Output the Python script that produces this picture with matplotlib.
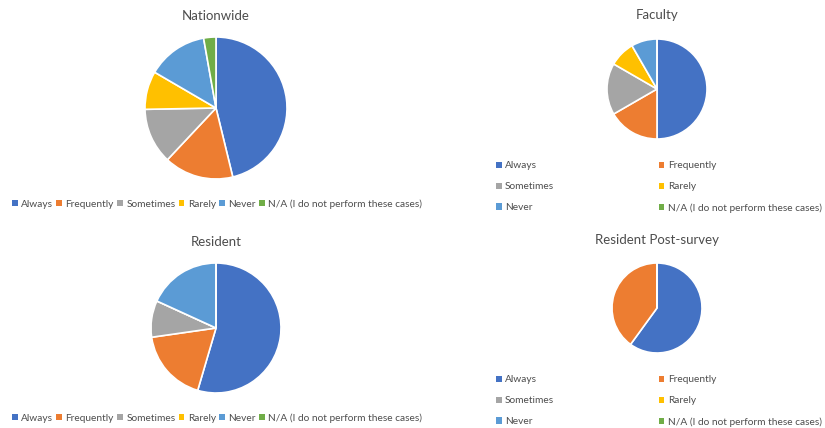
import matplotlib
matplotlib.use("Agg")
import matplotlib.pyplot as plt
from matplotlib.patches import Patch

plt.rcParams['font.family'] = ['Lato', 'DejaVu Sans']

W, H = 825, 428
TXT = '#4d4d4d'

categorias = ["Always", "Frequently", "Sometimes", "Rarely", "Never",
              "N/A (I do not perform these cases)"]
colores = ['#4472C4', '#ED7D31', '#A5A5A5', '#FFC000', '#5B9BD5', '#70AD47']

# porcentajes / respuestas por grupo
nationwide = [46.2, 15.8, 12.7, 8.7, 13.8, 2.8]
faculty = [6, 2, 2, 1, 1, 0]
resident = [6, 2, 1, 0, 2, 0]
post_survey = [3, 2, 0, 0, 0, 0]

fig = plt.figure(figsize=(W / 100, H / 100), dpi=100)
fig.patch.set_facecolor('white')


def Eje(cx, cy, r):
    # ejes cuadrados en pixeles, origen arriba a la izquierda
    return fig.add_axes([(cx - r) / W, 1 - (cy + r) / H, 2 * r / W, 2 * r / H])


def Tarta(valores, titulo, cx, cy, r, ty):
    ax = Eje(cx, cy, r)
    ax.pie(valores, colors=colores, startangle=90, counterclock=False,
           radius=1, wedgeprops=dict(edgecolor='white', linewidth=1.2))
    ax.set_xlim(-1, 1)
    ax.set_ylim(-1, 1)
    ax.set_aspect('equal')
    ax.axis('off')
    fig.text(cx / W, 1 - ty / H, titulo, ha='center', va='center',
             fontsize=9.5, color=TXT)


def Leyenda(x, y, ncol, columnspacing, labelspacing=0.5):
    handles = [Patch(facecolor=c, edgecolor='none') for c in colores]
    labels = list(categorias)
    if ncol == 2:
        orden = [0, 2, 4, 1, 3, 5]
        handles = [handles[i] for i in orden]
        labels = [labels[i] for i in orden]
    leg = fig.legend(handles, labels, ncol=ncol, loc='center left',
                     bbox_to_anchor=(x / W, 1 - y / H), frameon=False,
                     fontsize=7.3, handlelength=0.55, handleheight=0.55,
                     handletextpad=0.35, columnspacing=columnspacing,
                     labelspacing=labelspacing, borderpad=0, borderaxespad=0)
    for t in leg.get_texts():
        t.set_color(TXT)


Tarta(nationwide, "Nationwide", 216, 108, 71, 16)
Tarta(faculty, "Faculty", 657, 89, 50, 15)
Tarta(resident, "Resident", 216, 328, 65, 242)
Tarta(post_survey, "Resident Post-survey", 657, 308, 45, 240)

Leyenda(12, 204, 6, 0.32)
Leyenda(12, 418, 6, 0.32)
Leyenda(496, 187, 2, 10.3, 1.17)
Leyenda(496, 401, 2, 10.3, 1.17)

fig.savefig("out.png", dpi=100, facecolor='white')
